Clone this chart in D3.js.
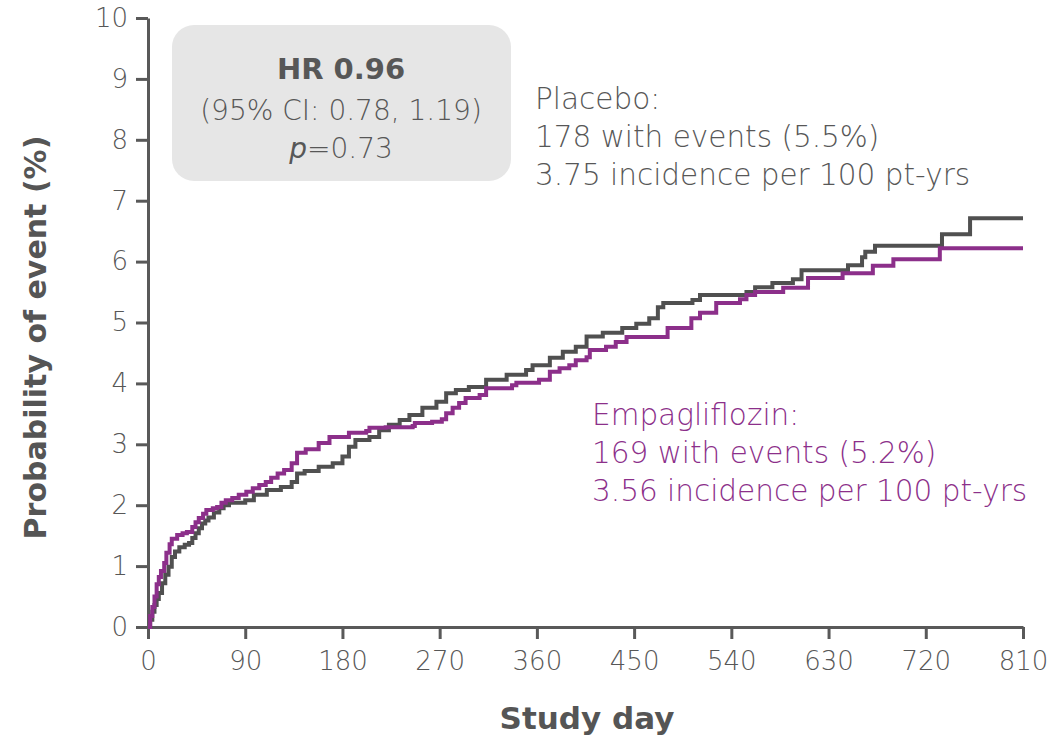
<!DOCTYPE html>
<html>
<head>
<meta charset="utf-8">
<script src="https://cdn.jsdelivr.net/npm/d3@7"></script>
<style>
  body { margin: 0; background: #fff; }
  svg text { font-family: "DejaVu Sans", "Lato", sans-serif; fill: #575757; }
  .axis path, .axis line { stroke: #595959; stroke-width: 3px; }
  .axis text { font-size: 26px; font-weight: 200; fill: #575757; }
  .title { font-weight: 700; fill: #555; }
</style>
</head>
<body>
<div id="chart"></div>
<script>
// Kaplan-Meier step points (day, cumulative %)
var placeboDay = [0, 2, 4, 6, 8, 10, 13, 16, 19, 22, 25, 29, 34, 38, 41, 44, 47, 50, 53, 56, 61, 66, 70, 75, 90, 98, 110, 123, 133, 138, 145, 158, 171, 180, 186, 192, 205, 214, 223, 233, 242, 254, 267, 276, 285, 297, 313, 332, 350, 356, 372, 384, 396, 406, 421, 439, 452, 464, 472, 477, 504, 511, 554, 562, 578, 597, 605, 648, 661, 664, 673, 735, 761, 810];
var placeboPct = [0, 0.12, 0.25, 0.36, 0.46, 0.56, 0.72, 0.86, 0.99, 1.15, 1.24, 1.31, 1.35, 1.38, 1.46, 1.54, 1.62, 1.7, 1.75, 1.8, 1.88, 1.95, 2.0, 2.04, 2.08, 2.17, 2.25, 2.3, 2.38, 2.52, 2.56, 2.63, 2.69, 2.8, 2.96, 3.07, 3.12, 3.23, 3.32, 3.4, 3.48, 3.6, 3.7, 3.84, 3.89, 3.94, 4.06, 4.14, 4.22, 4.3, 4.42, 4.52, 4.6, 4.77, 4.83, 4.91, 4.98, 5.07, 5.25, 5.32, 5.37, 5.45, 5.5, 5.58, 5.65, 5.71, 5.86, 5.94, 6.07, 6.16, 6.26, 6.45, 6.71, 6.71];

var empaDay = [0, 2, 4, 6, 8, 10, 12, 15, 17, 20, 22, 27, 32, 36, 41, 44, 47, 51, 54, 60, 64, 68, 72, 78, 84, 91, 97, 103, 109, 114, 120, 126, 133, 138, 146, 158, 168, 186, 202, 205, 220, 245, 247, 263, 272, 276, 282, 288, 294, 307, 313, 337, 341, 362, 372, 381, 390, 396, 406, 409, 424, 433, 443, 481, 503, 511, 526, 548, 554, 562, 588, 611, 643, 671, 690, 733, 810];
var empaPct = [0, 0.18, 0.33, 0.5, 0.7, 0.82, 0.92, 1.05, 1.22, 1.36, 1.45, 1.51, 1.54, 1.56, 1.64, 1.72, 1.79, 1.86, 1.92, 1.95, 1.97, 2.04, 2.08, 2.12, 2.17, 2.22, 2.28, 2.33, 2.38, 2.45, 2.52, 2.58, 2.69, 2.86, 2.92, 3.02, 3.12, 3.19, 3.22, 3.27, 3.28, 3.3, 3.35, 3.37, 3.41, 3.51, 3.6, 3.68, 3.76, 3.81, 3.92, 3.97, 4.01, 4.06, 4.19, 4.25, 4.3, 4.38, 4.43, 4.55, 4.6, 4.68, 4.76, 4.91, 5.07, 5.16, 5.32, 5.38, 5.45, 5.5, 5.57, 5.73, 5.81, 5.93, 6.04, 6.22, 6.22];

var xTicks = [0, 90, 180, 270, 360, 450, 540, 630, 720, 810];
var yTicks = [0, 1, 2, 3, 4, 5, 6, 7, 8, 9, 10];

var hrLines = ["HR 0.96", "(95% CI: 0.78, 1.19)", "=0.73"];
var placeboLines = ["Placebo:", "178 with events (5.5%)", "3.75 incidence per 100 pt-yrs"];
var empaLines = ["Empagliflozin:", "169 with events (5.2%)", "3.56 incidence per 100 pt-yrs"];

var grey = "#505050";
var purple = "#8c2f8a";

var svgWidth = 1053;
var svgHeight = 740;
var margin = { t: 18, r: 30, b: 113, l: 148 };
var chartWidth = svgWidth - margin.l - margin.r;
var chartHeight = svgHeight - margin.t - margin.b;

var svg = d3.select("#chart")
    .append("svg")
    .attr("width", svgWidth)
    .attr("height", svgHeight);

var chart = svg.append("g")
    .attr("transform", `translate(${margin.l} ${margin.t})`);

var xScale = d3.scaleLinear().domain([0, 810]).range([0, chartWidth]);
var yScale = d3.scaleLinear().domain([0, 10]).range([chartHeight, 0]);

// Axes
chart.append("g")
    .attr("class", "axis")
    .attr("transform", `translate(0, ${chartHeight})`)
    .call(d3.axisBottom(xScale).tickValues(xTicks).tickSize(12).tickPadding(8).tickSizeOuter(0))
    .selectAll("text").attr("dy", "0.9em");

chart.append("g")
    .attr("class", "axis")
    .call(d3.axisLeft(yScale).tickValues(yTicks).tickSize(12).tickPadding(8).tickSizeOuter(0));

// Curves
var line = d3.line()
    .x(d => xScale(d[0]))
    .y(d => yScale(d[1]))
    .curve(d3.curveStepAfter);

chart.append("path")
    .datum(placeboDay.map((d, i) => [d, placeboPct[i]]))
    .attr("d", line)
    .attr("fill", "none")
    .attr("stroke", grey)
    .attr("stroke-width", 4);

chart.append("path")
    .datum(empaDay.map((d, i) => [d, empaPct[i]]))
    .attr("d", line)
    .attr("fill", "none")
    .attr("stroke", purple)
    .attr("stroke-width", 4);

// Axis titles
svg.append("text")
    .attr("class", "title")
    .attr("x", 587)
    .attr("y", 729)
    .attr("text-anchor", "middle")
    .style("font-size", "31px")
    .text("Study day");

svg.append("text")
    .attr("class", "title")
    .attr("transform", `translate(46 ${margin.t + chartHeight / 2 + 15}) rotate(-90)`)
    .attr("text-anchor", "middle")
    .style("font-size", "30px")
    .text("Probability of event (%)");

// HR box
svg.append("rect")
    .attr("x", 172).attr("y", 25)
    .attr("width", 339).attr("height", 156)
    .attr("rx", 22)
    .attr("fill", "#e6e6e6");

svg.append("text")
    .attr("x", 341).attr("y", 79)
    .attr("text-anchor", "middle")
    .style("font-size", "29px").style("font-weight", 700)
    .text(hrLines[0]);

svg.append("text")
    .attr("x", 341).attr("y", 120)
    .attr("text-anchor", "middle")
    .style("font-size", "28px").style("font-weight", 200)
    .text(hrLines[1]);

var pText = svg.append("text")
    .attr("x", 341).attr("y", 158)
    .attr("text-anchor", "middle")
    .style("font-size", "28px").style("font-weight", 200);
pText.append("tspan").style("font-style", "italic").text("p");
pText.append("tspan").text(hrLines[2]);

// Group annotations
svg.append("g")
    .selectAll("text")
    .data(placeboLines)
    .enter()
    .append("text")
    .attr("x", 535)
    .attr("y", (d, i) => 109 + i * 38)
    .style("font-size", "29.5px").style("font-weight", 200)
    .style("fill", "#575757")
    .text(d => d);

svg.append("g")
    .selectAll("text")
    .data(empaLines)
    .enter()
    .append("text")
    .attr("x", 592)
    .attr("y", (d, i) => 425 + i * 38)
    .style("font-size", "29.5px").style("font-weight", 200)
    .style("fill", purple)
    .text(d => d);
</script>
</body>
</html>
